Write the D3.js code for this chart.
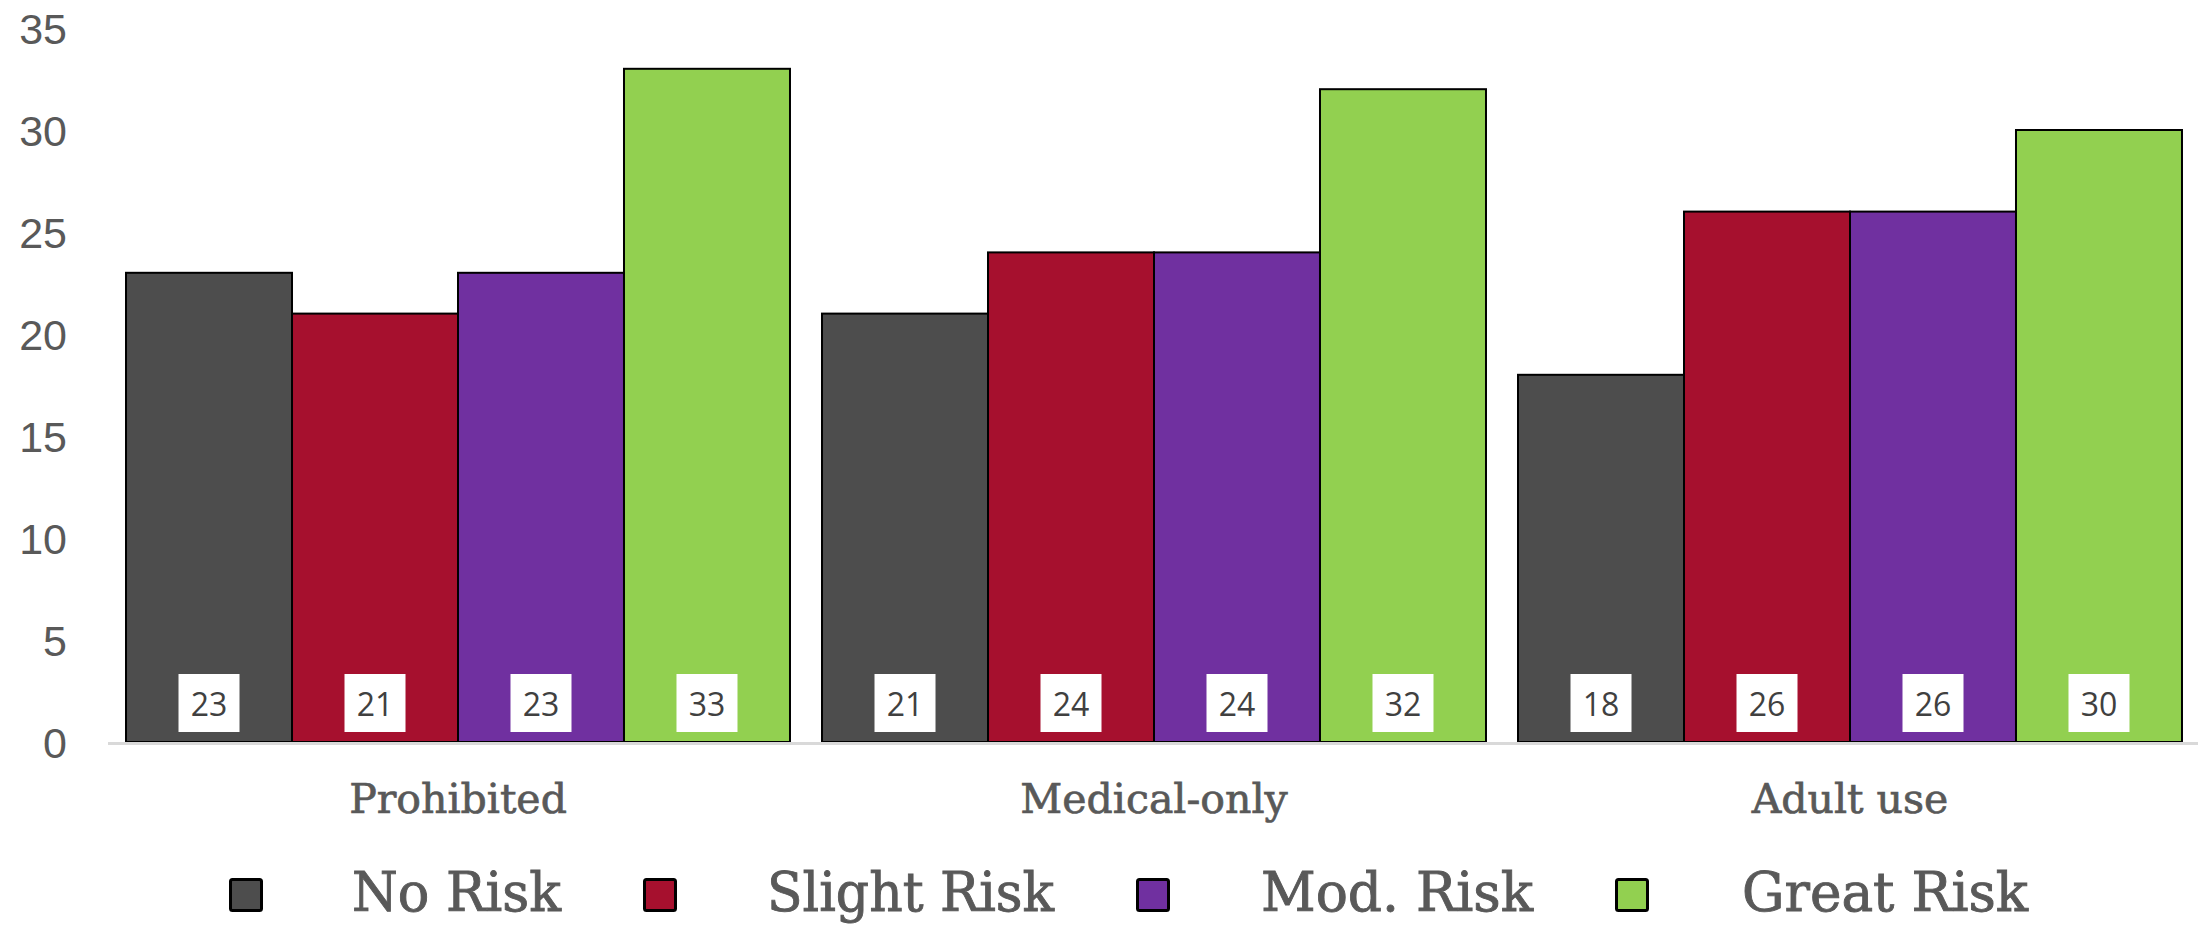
<!DOCTYPE html>
<html>
<head>
<meta charset="utf-8">
<script src="https://cdn.jsdelivr.net/npm/d3@7/dist/d3.min.js"></script>
<style>
  html, body { margin: 0; padding: 0; background: #fff; }
  svg { display: block; }
</style>
</head>
<body>
<svg id="chart" width="2205" height="925"></svg>
<script>
// ---- data ----
const categories = ["Prohibited", "Medical-only", "Adult use"];
const seriesNames = ["No Risk", "Slight Risk", "Mod. Risk", "Great Risk"];
const noRisk     = [23, 21, 18];
const slightRisk = [21, 24, 26];
const modRisk    = [23, 24, 26];
const greatRisk  = [33, 32, 30];
const yTicks = [0, 5, 10, 15, 20, 25, 30, 35];

(function () {
// ---- styling ----
const colors = ["#4d4d4d", "#a6102e", "#7030a0", "#92d050"];
const seriesValues = [noRisk, slightRisk, modRisk, greatRisk];

const svg = d3.select("#chart");
const plotL = 110, plotR = 2198, plotT = 28, plotB = 742;

const x0 = d3.scaleBand().domain(categories).range([plotL, plotR])
  .paddingInner(0.046).paddingOuter(0.023);
const x1 = d3.scaleBand().domain(seriesNames).range([0, x0.bandwidth()]).padding(0);
const y = d3.scaleLinear().domain([0, 35]).range([plotB, plotT]);

// y tick labels
const yAxis = d3.axisLeft(y).tickValues(yTicks).tickSize(0).tickPadding(0);
const yg = svg.append("g").attr("transform", "translate(67,0)").call(yAxis);
yg.select(".domain").remove();
yg.selectAll("text")
  .attr("font-family", "'Liberation Sans', Arial, sans-serif")
  .attr("font-size", 43)
  .attr("fill", "#595959")
  .attr("dy", "0.36em");

// bars
const groups = svg.append("g").selectAll("g")
  .data(categories)
  .join("g")
  .attr("transform", d => `translate(${x0(d)},0)`);

const bars = groups.selectAll("g.bar")
  .data((c, ci) => seriesNames.map((s, si) => ({ s, si, v: seriesValues[si][ci] })))
  .join("g").attr("class", "bar");

bars.append("rect")
  .attr("x", d => x1(d.s))
  .attr("y", d => y(d.v))
  .attr("width", x1.bandwidth())
  .attr("height", d => y(0) - y(d.v))
  .attr("fill", d => colors[d.si])
  .attr("stroke", "#000")
  .attr("stroke-width", 2);

// x axis line
svg.append("line")
  .attr("x1", plotL - 2).attr("x2", plotR)
  .attr("y1", y(0) + 1.5).attr("y2", y(0) + 1.5)
  .attr("stroke", "#d9d9d9").attr("stroke-width", 3);

// data labels (inside base, white box)
const boxW = 61, boxH = 58;
bars.append("rect")
  .attr("x", d => x1(d.s) + x1.bandwidth() / 2 - boxW / 2)
  .attr("y", y(0) - 10 - boxH)
  .attr("width", boxW).attr("height", boxH)
  .attr("fill", "#fff");
bars.append("text")
  .attr("x", d => x1(d.s) + x1.bandwidth() / 2)
  .attr("y", y(0) - 26)
  .attr("text-anchor", "middle")
  .attr("font-family", "'Open Sans', 'Noto Sans', sans-serif")
  .attr("font-size", 32)
  .attr("fill", "#404040")
  .text(d => d.v);

// category labels
const xAxis = d3.axisBottom(x0).tickSize(0).tickPadding(0);
const xg = svg.append("g").attr("transform", "translate(0,813)").call(xAxis);
xg.select(".domain").remove();
xg.selectAll("text")
  .attr("font-family", "'DejaVu Serif', serif")
  .attr("font-size", 41)
  .attr("fill", "#595959")
  .attr("stroke", "#595959")
  .attr("stroke-width", 0.7)
  .attr("dy", 0);

// legend
const legSquareX = [229, 643, 1136, 1615];
const legTextX = [352, 767, 1261, 1742];
const legTextW = [209, 287, 272, 286];
const leg = svg.append("g").selectAll("g")
  .data(seriesNames)
  .join("g");
leg.append("rect")
  .attr("x", (d, i) => legSquareX[i] + 1.5)
  .attr("y", 879.5)
  .attr("width", 31).attr("height", 31)
  .attr("rx", 2)
  .attr("fill", (d, i) => colors[i])
  .attr("stroke", "#000").attr("stroke-width", 3);
leg.append("text")
  .attr("x", (d, i) => legTextX[i])
  .attr("y", 911)
  .attr("font-family", "'DejaVu Serif', serif")
  .attr("font-size", 54)
  .attr("fill", "#595959")
  .attr("stroke", "#595959")
  .attr("stroke-width", 0.9)
  .attr("textLength", (d, i) => legTextW[i])
  .attr("lengthAdjust", "spacingAndGlyphs")
  .text(d => d);
})();
</script>
</body>
</html>
